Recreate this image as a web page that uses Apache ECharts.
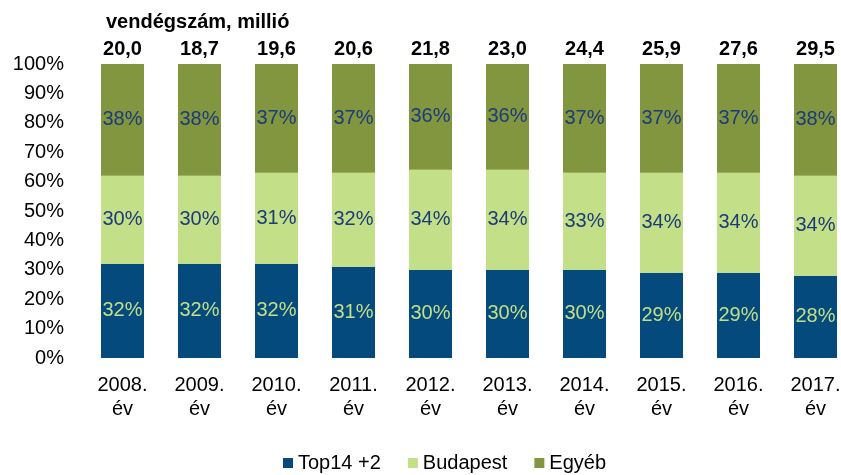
<!DOCTYPE html>
<html>
<head>
<meta charset="utf-8">
<script src="https://cdn.jsdelivr.net/npm/echarts@6/dist/echarts.min.js"></script>
<style>
  html, body { margin: 0; padding: 0; background: #fff; }
  #chart { width: 841px; height: 475px; }
</style>
</head>
<body>
<div id="chart"></div>
<script>
// évek
const years = ['2008.', '2009.', '2010.', '2011.', '2012.', '2013.', '2014.', '2015.', '2016.', '2017.']
// vendégszám összesen, millió
const totals = [20.0, 18.7, 19.6, 20.6, 21.8, 23.0, 24.4, 25.9, 27.6, 29.5]
// megoszlás, %
const top14 = [32, 32, 32, 31, 30, 30, 30, 29, 29, 28]
const budapest = [30, 30, 31, 32, 34, 34, 33, 34, 34, 34]
const egyeb = [38, 38, 37, 37, 36, 36, 37, 37, 37, 38]
const yTicks = [0, 100, 10]

const FONT = 'Arial, "Liberation Sans", sans-serif'
const LABEL_BLUE = '#1c3b7a'

const chart = echarts.init(document.getElementById('chart'))

const barLabel = (color) => ({
  show: true,
  position: 'inside',
  color,
  fontFamily: FONT,
  fontSize: 20,
  formatter: (p) => p.value + '%'
})

chart.setOption({
  animation: false,
  title: {
    text: 'vendégszám, millió',
    left: 101,
    top: 7,
    textStyle: { fontFamily: FONT, fontSize: 20, fontWeight: 'bold', color: '#000' }
  },
  // a rajzterület jobbra kilóg a vászonról (mint az eredetin)
  grid: { left: 84, width: 770, top: 64, bottom: 117, outerBoundsMode: 'none' },
  legend: {
    left: 278,
    top: 448,
    itemWidth: 10,
    itemHeight: 10,
    itemGap: 27,
    icon: 'rect',
    textStyle: { fontFamily: FONT, fontSize: 20, color: '#000' },
    data: ['Top14 +2', 'Budapest', 'Egyéb']
  },
  xAxis: [
    {
      type: 'category',
      data: years.map(y => y + '\név'),
      axisLine: { show: false },
      axisTick: { show: false },
      axisLabel: { fontFamily: FONT, fontSize: 20, color: '#000', lineHeight: 24, margin: 15 }
    },
    {
      type: 'category',
      position: 'top',
      data: totals.map(v => v.toFixed(1).replace('.', ',')),
      axisLine: { show: false },
      axisTick: { show: false },
      axisLabel: { fontFamily: FONT, fontSize: 20, fontWeight: 'bold', color: '#000', margin: 5 }
    }
  ],
  yAxis: {
    type: 'value',
    min: yTicks[0],
    max: yTicks[1],
    interval: yTicks[2],
    axisLine: { show: false },
    axisTick: { show: false },
    splitLine: { show: false },
    axisLabel: { fontFamily: FONT, fontSize: 20, color: '#000', margin: 20, formatter: '{value}%' }
  },
  series: [
    {
      name: 'Top14 +2', type: 'bar', stack: 'total', barWidth: 43,
      data: top14,
      itemStyle: { color: '#054a7c' },
      label: barLabel('#c3df87')
    },
    {
      name: 'Budapest', type: 'bar', stack: 'total', barWidth: 43,
      data: budapest,
      itemStyle: { color: '#c3df87' },
      label: barLabel(LABEL_BLUE)
    },
    {
      name: 'Egyéb', type: 'bar', stack: 'total', barWidth: 43,
      data: egyeb,
      itemStyle: { color: '#82963f' },
      label: barLabel(LABEL_BLUE)
    }
  ]
})
</script>
</body>
</html>
